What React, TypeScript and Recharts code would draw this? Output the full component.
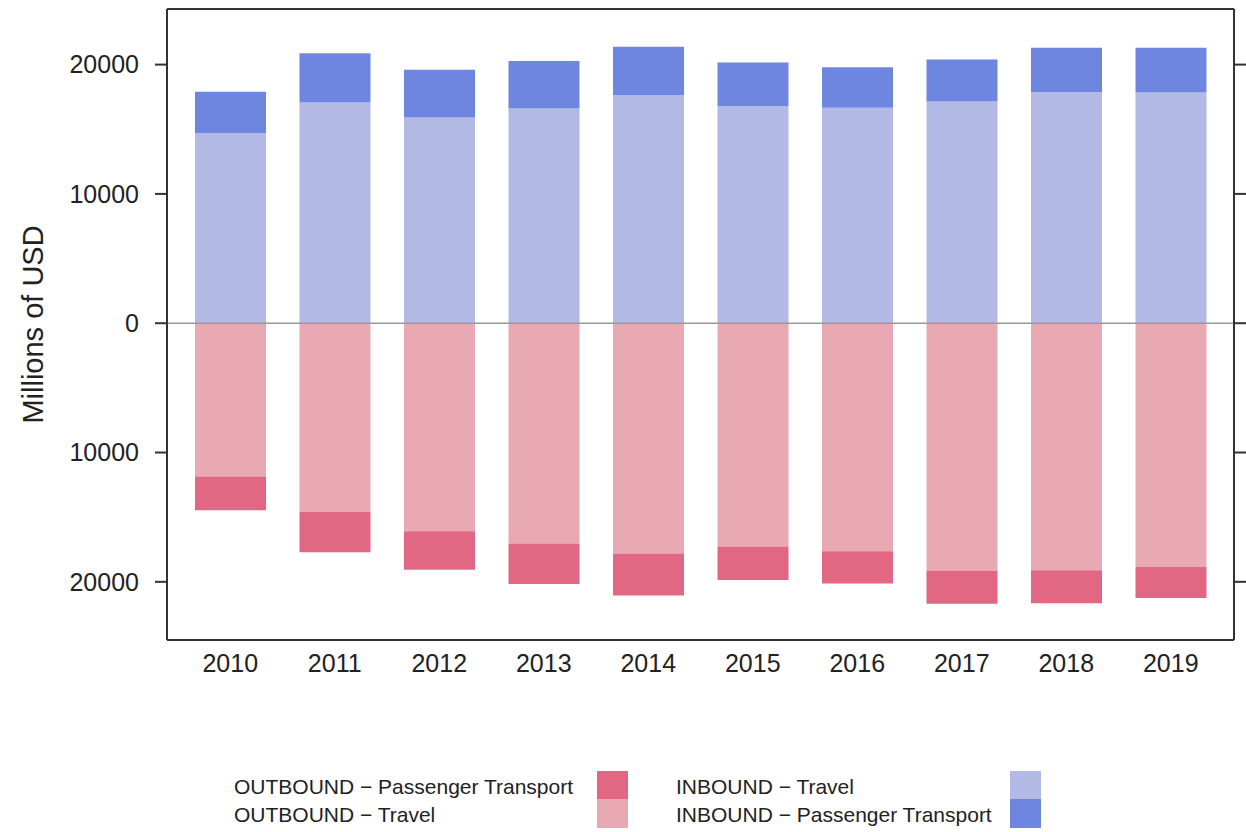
import { BarChart, Bar, XAxis, YAxis, ReferenceLine } from 'recharts'

const years = ['2010', '2011', '2012', '2013', '2014', '2015', '2016', '2017', '2018', '2019']

// millions of USD
const inboundTravel = [14700, 17060, 15900, 16600, 17650, 16800, 16670, 17140, 17860, 17840]
const inboundPassenger = [3200, 3810, 3700, 3680, 3730, 3370, 3130, 3260, 3440, 3460]
const outboundTravel = [11860, 14600, 16080, 17040, 17810, 17270, 17630, 19130, 19110, 18850]
const outboundPassenger = [2610, 3110, 2980, 3130, 3240, 2590, 2510, 2560, 2540, 2410]

const yTicks = [-20000, -10000, 0, 10000, 20000]
const yDomain = [-24500, 24300]

const COLORS = {
  outPassenger: '#E16782',
  outTravel: '#E8A9B5',
  inTravel: '#B2B9E5',
  inPassenger: '#6F86E0',
}

const FONT = '"Liberation Sans", Arial, sans-serif'

const data = years.map((year, i) => ({
  year,
  outTravel: -outboundTravel[i],
  outPassenger: -outboundPassenger[i],
  inTravel: inboundTravel[i],
  inPassenger: inboundPassenger[i],
}))

const legendItems = [
  { label: 'OUTBOUND \u2212 Passenger Transport', color: COLORS.outPassenger, textX: 234, boxX: 597, y: 771 },
  { label: 'OUTBOUND \u2212 Travel', color: COLORS.outTravel, textX: 234, boxX: 597, y: 799 },
  { label: 'INBOUND \u2212 Travel', color: COLORS.inTravel, textX: 676, boxX: 1010, y: 771 },
  { label: 'INBOUND \u2212 Passenger Transport', color: COLORS.inPassenger, textX: 676, boxX: 1010, y: 799 },
]

const tickStyle = { fontSize: 25, fill: '#222', fontFamily: FONT }
const frame = { stroke: '#333', strokeWidth: 2 }

export default function App() {
  return (
    <div style={{ position: 'absolute', left: 0, top: 0, width: 1246, height: 832, background: '#fff', fontFamily: FONT }}>
      <BarChart
        width={1246}
        height={832}
        data={data}
        stackOffset="sign"
        margin={{ top: 9, right: 0, left: 0, bottom: 152 }}
      >
        <XAxis
          dataKey="year"
          height={40}
          padding={{ left: 11, right: 11 }}
          tickLine={false}
          axisLine={frame}
          tick={tickStyle}
          tickMargin={8}
          interval={0}
        />
        <YAxis
          width={167}
          domain={yDomain}
          ticks={yTicks}
          allowDataOverflow
          tickFormatter={(v: number) => String(Math.abs(v))}
          tick={tickStyle}
          tickSize={12}
          tickMargin={16}
          tickLine={frame}
          axisLine={frame}
          label={{
            value: 'Millions of USD',
            angle: -90,
            position: 'insideLeft',
            offset: 33,
            style: { fontSize: 29, fill: '#222', fontFamily: FONT, textAnchor: 'middle' },
          }}
        />
        <YAxis
          yAxisId="right"
          orientation="right"
          width={12}
          domain={yDomain}
          ticks={yTicks}
          allowDataOverflow
          tick={() => <g />}
          tickSize={12}
          tickLine={frame}
          axisLine={frame}
        />
        <Bar dataKey="outTravel" stackId="a" fill={COLORS.outTravel} barSize={71} isAnimationActive={false} />
        <Bar dataKey="outPassenger" stackId="a" fill={COLORS.outPassenger} barSize={71} isAnimationActive={false} />
        <Bar dataKey="inTravel" stackId="a" fill={COLORS.inTravel} barSize={71} isAnimationActive={false} />
        <Bar dataKey="inPassenger" stackId="a" fill={COLORS.inPassenger} barSize={71} isAnimationActive={false} />
        <ReferenceLine y={0} stroke="#999" strokeWidth={1.5} />
        <ReferenceLine y={yDomain[1]} stroke="#333" strokeWidth={2} />
      </BarChart>
      {legendItems.map((item) => (
        <div key={item.label}>
          <div
            style={{
              position: 'absolute',
              left: item.textX,
              top: item.y + 2,
              fontSize: 21,
              lineHeight: '28px',
              color: '#222',
              whiteSpace: 'nowrap',
            }}
          >
            {item.label}
          </div>
          <div
            style={{
              position: 'absolute',
              left: item.boxX,
              top: item.y,
              width: 31,
              height: 29,
              background: item.color,
            }}
          />
        </div>
      ))}
    </div>
  )
}
